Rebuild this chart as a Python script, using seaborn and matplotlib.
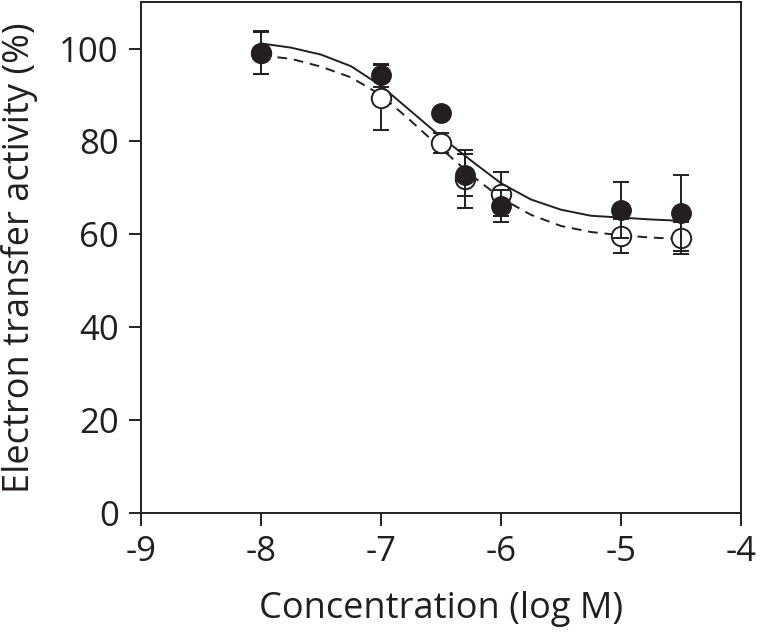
import matplotlib
matplotlib.use("Agg")
import matplotlib.pyplot as plt
import seaborn as sns
import pandas as pd

# points mesures (log M) et activite (%)
conc = [-8.0, -7.0, -6.5, -6.3, -6.0, -5.0, -4.5]
filled_mean = [99.1, 94.2, 86.2, 72.8, 66.1, 65.2, 64.6]
filled_err = [4.6, 2.4, 1.0, 4.5, 3.5, 6.0, 8.2]
open_mean = [99.0, 89.4, 79.7, 71.9, 68.7, 59.6, 59.2]
open_err = [4.5, 7.0, 2.1, 6.3, 4.7, 3.7, 3.5]

# courbes d'ajustement
fit_x = [-8.0, -7.75, -7.5, -7.25, -7.0, -6.75, -6.5, -6.25, -6.0,
         -5.75, -5.5, -5.25, -5.0, -4.75, -4.5]
fit_filled = [101.1, 100.2, 98.7, 96.2, 92.0, 86.5, 81.0, 75.9, 71.0,
              67.5, 65.3, 64.0, 63.6, 63.2, 62.9]
fit_open = [98.5, 97.8, 96.1, 93.8, 90.0, 84.4, 78.5, 72.8, 67.8,
            64.2, 61.8, 60.5, 59.8, 59.3, 59.0]

xticks = [-9, -8, -7, -6, -5, -4]
yticks = [0, 20, 40, 60, 80, 100]

ink = "#231f20"
sns.set_style("ticks")
plt.rcParams['font.family'] = ['Open Sans', 'DejaVu Sans']
plt.rcParams['text.color'] = ink

fig = plt.figure(figsize=(7.6, 6.41), dpi=100)
ax = fig.add_axes([0.1855, 0.1997, 0.7895, 0.797])

df_fit = pd.DataFrame({"x": fit_x, "filled": fit_filled, "open": fit_open})
sns.lineplot(data=df_fit, x="x", y="open", ax=ax, color=ink, lw=1.4, zorder=2)
ax.lines[-1].set_dashes((5, 3.5))
sns.lineplot(data=df_fit, x="x", y="filled", ax=ax, color=ink, lw=1.4, zorder=2)

# barres d'erreur + marqueurs (pleins au-dessus des vides)
ax.errorbar(conc, open_mean, yerr=open_err, fmt="o", color=ink, mfc="white",
            mec=ink, mew=1.4, ms=14, capsize=6, elinewidth=1.4,
            capthick=1.4, zorder=3)
ax.errorbar(conc, filled_mean, yerr=filled_err, fmt="o", color=ink, mfc=ink,
            mec=ink, ms=14, capsize=6, elinewidth=1.4, capthick=1.4, zorder=4)

ax.set_xlim(-9, -4)
ax.set_ylim(0, 110)
ax.set_xticks(xticks)
ax.set_yticks(yticks)
ax.set_xticklabels([str(t) for t in xticks])
ax.tick_params(axis="both", direction="out", length=9, width=1.4, labelsize=25,
               color=ink, labelcolor=ink, pad=7)
for s in ax.spines.values():
    s.set_linewidth(1.4)
    s.set_color(ink)

ax.set_xlabel("Concentration (log M)", fontsize=26, color=ink)
ax.set_ylabel("Electron transfer activity (%)", fontsize=26, color=ink)
ax.xaxis.set_label_coords(0.5, -0.152)
ax.yaxis.set_label_coords(-0.172, 0.5)

fig.savefig("out.png", dpi=100)
